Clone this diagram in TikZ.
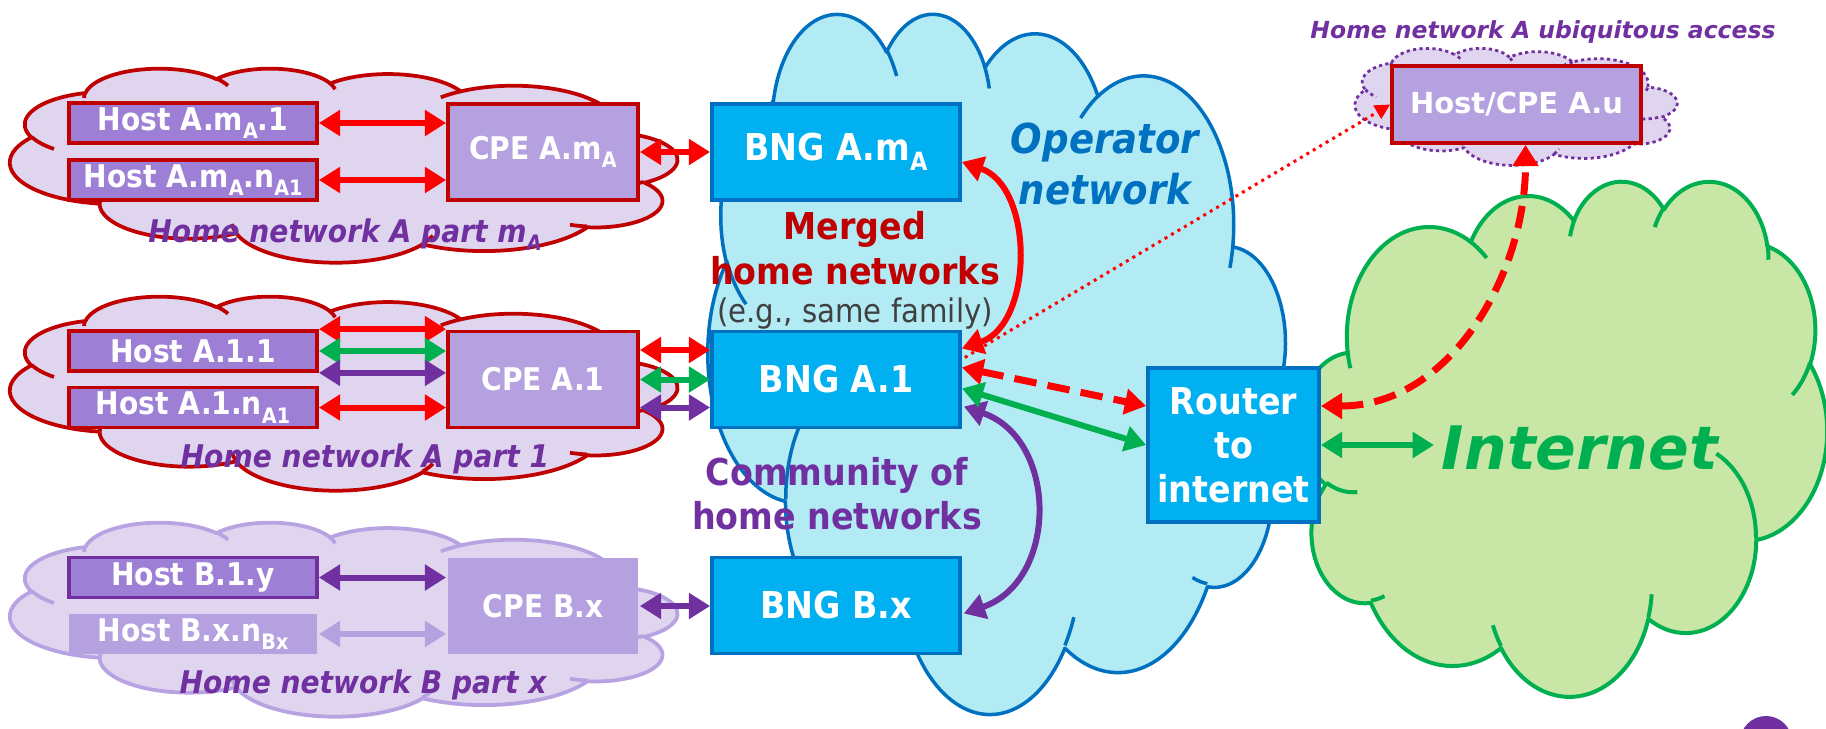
\documentclass[tikz,border=0pt]{standalone}
\usepackage{fontspec}
\usepackage{graphicx}
\setmainfont{DejaVu Sans}
\newfontfamily\cnd{DejaVu Sans}[FakeStretch=0.9]
\usetikzlibrary{arrows.meta,calc}

\definecolor{lavfill}{HTML}{DFD5EF}
\definecolor{hostfill}{HTML}{9D80D6}
\definecolor{cpefill}{HTML}{B5A0E0}
\definecolor{homered}{HTML}{C00000}
\definecolor{opfill}{HTML}{B2EBF4}
\definecolor{opline}{HTML}{0070C0}
\definecolor{bngfill}{HTML}{00B0F0}
\definecolor{netfill}{HTML}{C8E6A6}
\definecolor{netline}{HTML}{00B050}
\definecolor{commpurple}{HTML}{7030A0}
\definecolor{paleline}{HTML}{B7A2E2}
\definecolor{linkred}{HTML}{FF0000}
\definecolor{egtext}{HTML}{404040}

% subscript in box labels
\newcommand\sbs[1]{\raisebox{-0.28em}{\scalebox{0.68}{#1}}}

% ---- cloud outline (office style), design space 432 x 432 ----
\def\cldU{0.4}% pt per pixel
\newcommand\cldPoint[2]{%
  \pgfmathsetmacro\cldPX{(\cldX+(216+(\cldS)*((#1)-216))/432*\cldW)*\cldU}%
  \pgfmathsetmacro\cldPY{-(\cldY+(#2)/432*\cldH)*\cldU}%
  \pgfpathmoveto{\pgfpoint{\cldPX pt}{\cldPY pt}}}
\newcommand\cldArc[4]{%
  \pgfmathsetmacro\cldTa{atan2((#1)*sin(#3),(#2)*cos(#3))}%
  \pgfmathsetmacro\cldTb{atan2((#1)*sin((#3)+(#4)),(#2)*cos((#3)+(#4)))}%
  \pgfmathsetmacro\cldTb{\cldTb+360*(\cldTb<\cldTa)}%
  \pgfmathsetmacro\cldA{90-(\cldS)*(90+\cldTa)}%
  \pgfmathsetmacro\cldB{90-(\cldS)*(90+\cldTb)}%
  \pgfmathsetmacro\cldRX{(#1)/432*\cldW*\cldU}%
  \pgfmathsetmacro\cldRY{(#2)/432*\cldH*\cldU}%
  \pgfpatharc{\cldA}{\cldB}{\cldRX pt and \cldRY pt}}
% #1 x, #2 y (top left, px), #3 w, #4 h, #5 1 or -1 (mirrored), #6 fill, #7 line, #8 width, #9 extra
\newcommand\pptcloud[9]{%
  \begin{pgfscope}%
  \def\cldX{#1}\def\cldY{#2}\def\cldW{#3}\def\cldH{#4}\def\cldS{#5}%
  \pgfsetfillcolor{#6}\pgfsetstrokecolor{#7}\pgfsetlinewidth{#8}\pgfsetroundjoin\pgfsetbuttcap #9%
  \cldPoint{39.00}{143.70}%
  \cldArc{67.53}{91.90}{-190.4875}{123.7805}%
  \cldArc{53.33}{72.67}{-144.1024}{89.9452}%
  \cldArc{43.65}{59.45}{-145.8079}{99.7230}%
  \cldArc{48.57}{65.95}{-130.9861}{117.2417}%
  \cldArc{53.33}{72.73}{-78.7089}{109.0269}%
  \cldArc{67.75}{92.20}{-46.2673}{130.2690}%
  \cldArc{57.85}{78.67}{0.6250}{114.0333}%
  \cldArc{67.52}{92.15}{22.4516}{115.1726}%
  \cldArc{77.20}{105.43}{66.2426}{75.7110}%
  \cldArc{43.60}{59.18}{-274.9421}{146.7356}%
  \cldArc{43.45}{59.45}{-246.8285}{152.5189}%
  \pgfpathclose
  \pgfusepath{fill,stroke}%
  \cldPoint{46.93}{261.77}\cldArc{43.45}{59.45}{86.7420}{26.4295}%
  \cldPoint{69.28}{348.99}\cldArc{43.60}{59.18}{73.6105}{11.4475}%
  \cldPoint{164.78}{390.90}\cldArc{67.52}{92.15}{137.6242}{14.0811}%
  \cldPoint{288.27}{347.51}\cldArc{67.52}{92.15}{6.4533}{15.9984}%
  \cldPoint{341.29}{229.54}\cldArc{57.85}{78.67}{-70.2924}{70.9174}%
  \cldPoint{417.98}{153.54}\cldArc{53.33}{72.73}{30.3180}{27.7515}%
  \cldPoint{383.24}{54.26}\cldArc{48.57}{65.95}{-13.7443}{14.8589}%
  \cldPoint{290.78}{39.52}\cldArc{48.57}{65.95}{-149.1815}{18.1954}%
  \cldPoint{221.41}{47.20}\cldArc{43.65}{59.45}{-163.4943}{17.6864}%
  \cldPoint{140.00}{51.92}\cldArc{67.53}{91.90}{-66.7070}{12.3194}%
  \cldPoint{41.27}{157.89}\cldArc{67.53}{91.90}{157.6544}{11.8582}%
  \pgfusepath{stroke}%
  \end{pgfscope}}

\begin{document}
\begin{tikzpicture}[x=0.4pt,y=-0.4pt,
  box/.style={draw, line width=1.5pt, inner sep=0pt, text=white,
    font=\cnd\bfseries\fontsize{12.5}{14}\selectfont},
  hostbox/.style={box, fill=hostfill, draw=homered, minimum width=99.2pt, minimum height=16pt},
  cpebox/.style={box, fill=cpefill, draw=homered, minimum width=76pt, minimum height=38.4pt},
  bngbox/.style={box, fill=bngfill, draw=opline, minimum width=99.2pt, minimum height=38.4pt,
    font=\cnd\bfseries\fontsize{14.8}{17.6}\selectfont},
  lbl/.style={anchor=base, inner sep=0pt},
  partlbl/.style={lbl, text=commpurple, font=\cnd\bfseries\itshape\fontsize{12.5}{14}\selectfont},
  biglbl/.style={lbl, font=\cnd\bfseries\fontsize{14.8}{17.6}\selectfont},
  link/.style={line width=2.4pt, {Triangle[length=8.5pt,width=10pt]}-{Triangle[length=8.5pt,width=10pt]}},
  dashlink/.style={link, line width=2.8pt, dash pattern=on 9pt off 4.5pt}]
\useasboundingbox (0,0) rectangle (1826,728);

% clouds
\pptcloud{10}{68}{667}{194}{-1}{lavfill}{homered}{1.5pt}{}
\pptcloud{10}{296}{667}{194}{-1}{lavfill}{homered}{1.5pt}{}
\pptcloud{10}{522}{667}{194}{-1}{lavfill}{paleline}{1.5pt}{}
\pptcloud{708}{12}{577}{700}{-1}{opfill}{opline}{1.4pt}{}
\pptcloud{1300}{180}{527}{515}{1}{netfill}{netline}{1.6pt}{}
\pptcloud{1355}{48}{322}{117}{-1}{lavfill}{commpurple}{1.1pt}{\pgfsetdash{{1.3pt}{1.3pt}}{0pt}}

% home network A, part m_A
\node[hostbox] (hostAm1) at (193,123) {Host A.m\sbs{A}.1};
\node[hostbox] (hostAmn) at (193,180) {Host A.m\sbs{A}.n\sbs{A1}};
\node[cpebox] (cpeAm) at (543,152) {CPE A.m\sbs{A}};
\node[partlbl] (lblAm) at (345,242) {Home network A part m\sbs{A}};

% home network A, part 1
\node[hostbox] (hostA11) at (193,351) {Host A.1.1};
\node[hostbox] (hostA1n) at (193,407.5) {Host A.1.n\sbs{A1}};
\node[cpebox] (cpeA1) at (543,379.5) {CPE A.1};
\node[partlbl] (lblA1) at (365,467) {Home network A part 1};

% home network B, part x
\node[hostbox, draw=commpurple] (hostB1y) at (193,577.5) {Host B.1.y};
\node[hostbox, fill=cpefill, draw=none] (hostBxn) at (193,634) {Host B.x.n\sbs{Bx}};
\node[cpebox, draw=none] (cpeBx) at (543,606) {CPE B.x};
\node[partlbl] (lblB) at (363,693) {Home network B part x};

% operator network
\node[bngbox] (bngAm) at (836,152) {BNG A.m\sbs{A}};
\node[bngbox] (bngA1) at (836,379.5) {BNG A.1};
\node[bngbox] (bngBx) at (836,605.5) {BNG B.x};
\node[bngbox, minimum width=68.4pt, minimum height=61.6pt, align=center] (router) at (1233.5,445) {Router\\to\\internet};

\node[biglbl, text=homered] (merged1) at (855,239) {Merged};
\node[biglbl, text=homered] (merged2) at (855,284) {home networks};
\node[lbl, text=egtext, font=\cnd\fontsize{13}{15}\selectfont] (merged3) at (855,322) {(e.g., same family)};
\node[biglbl, text=commpurple] (comm1) at (837,485) {Community of};
\node[biglbl, text=commpurple] (comm2) at (837,529) {home networks};
\node[lbl, text=opline, font=\cnd\bfseries\itshape\fontsize{16.5}{19}\selectfont] (oper1) at (1105,153) {Operator};
\node[lbl, text=opline, font=\cnd\bfseries\itshape\fontsize{16.5}{19}\selectfont] (oper2) at (1105,204) {network};

% internet and ubiquitous access
\node[anchor=base, inner sep=3pt, text=netline, font=\bfseries\itshape\fontsize{24}{28}\selectfont] (inet) at (1580,469) {Internet};
\node[box, fill=cpefill, draw=homered, minimum width=99.6pt, minimum height=30.8pt,
  font=\bfseries\fontsize{11.6}{14}\selectfont] (hostAu) at (1516.5,104.5) {Host/CPE A.u};
\node[lbl, text=commpurple, font=\bfseries\itshape\fontsize{9.4}{11}\selectfont] (ubiq) at (1543,38) {Home network A ubiquitous access};

% links inside the homes
\draw[link, color=linkred] (hostAm1.east) -- (hostAm1.east -| cpeAm.west);
\draw[link, color=linkred] (hostAmn.east) -- (hostAmn.east -| cpeAm.west);
\draw[link, color=linkred] (hostA11.north east) -- (hostA11.north east -| cpeA1.west);
\draw[link, color=netline] (hostA11.east) -- (hostA11.east -| cpeA1.west);
\draw[link, color=commpurple] (hostA11.south east) -- (hostA11.south east -| cpeA1.west);
\draw[link, color=linkred] (hostA1n.east) -- (hostA1n.east -| cpeA1.west);
\draw[link, color=commpurple] (hostB1y.east) -- (hostB1y.east -| cpeBx.west);
\draw[link, color=cpefill] (hostBxn.east) -- (hostBxn.east -| cpeBx.west);

% CPE to BNG
\draw[link, color=linkred] (cpeAm.east) -- (bngAm.west);
\draw[link, color=linkred] ($(cpeA1.east)+(0,-29.5)$) -- ($(bngA1.west)+(0,-29.5)$);
\draw[link, color=netline] (cpeA1.east) -- (bngA1.west);
\draw[link, color=commpurple] ($(cpeA1.east)+(0,28)$) -- ($(bngA1.west)+(0,28)$);
\draw[link, color=commpurple] (cpeBx.east) -- (cpeBx.east -| bngBx.west);

% between BNGs and towards the internet
\draw[link, color=linkred] ($(bngAm.east)+(0,10)$) to[out=-19, in=19, looseness=1.05] ($(bngA1.east)+(0,-31)$);
\draw[link, color=commpurple] ($(bngA1.east)+(2,27)$) to[out=-19, in=19, looseness=1.24] ($(bngBx.east)+(2,8)$);
\draw[dashlink, color=linkred] ($(bngA1.east)+(0,-12)$) -- ($(router.west)+(0,-39)$);
\draw[link, color=netline] ($(bngA1.east)+(0,9)$) -- (router.west);
\draw[color=linkred, line width=1.2pt, dash pattern=on 1.2pt off 1.8pt, -{Triangle[length=6pt,width=6pt]}]
  ($(bngA1.east)+(3,-22)$) -- (hostAu.west);
\draw[dashlink, color=linkred] ($(router.east)+(0,-39)$) to[out=0, in=-90] ($(hostAu.south)+(9,0)$);
\draw[link, color=netline] (router.east) -- (router.east -| inet.west);

% slide number badge
\begin{scope}
\clip (0,0) rectangle (1826,728);
\fill[commpurple] (1766,742) circle[radius=26];
\end{scope}
\end{tikzpicture}
\end{document}
